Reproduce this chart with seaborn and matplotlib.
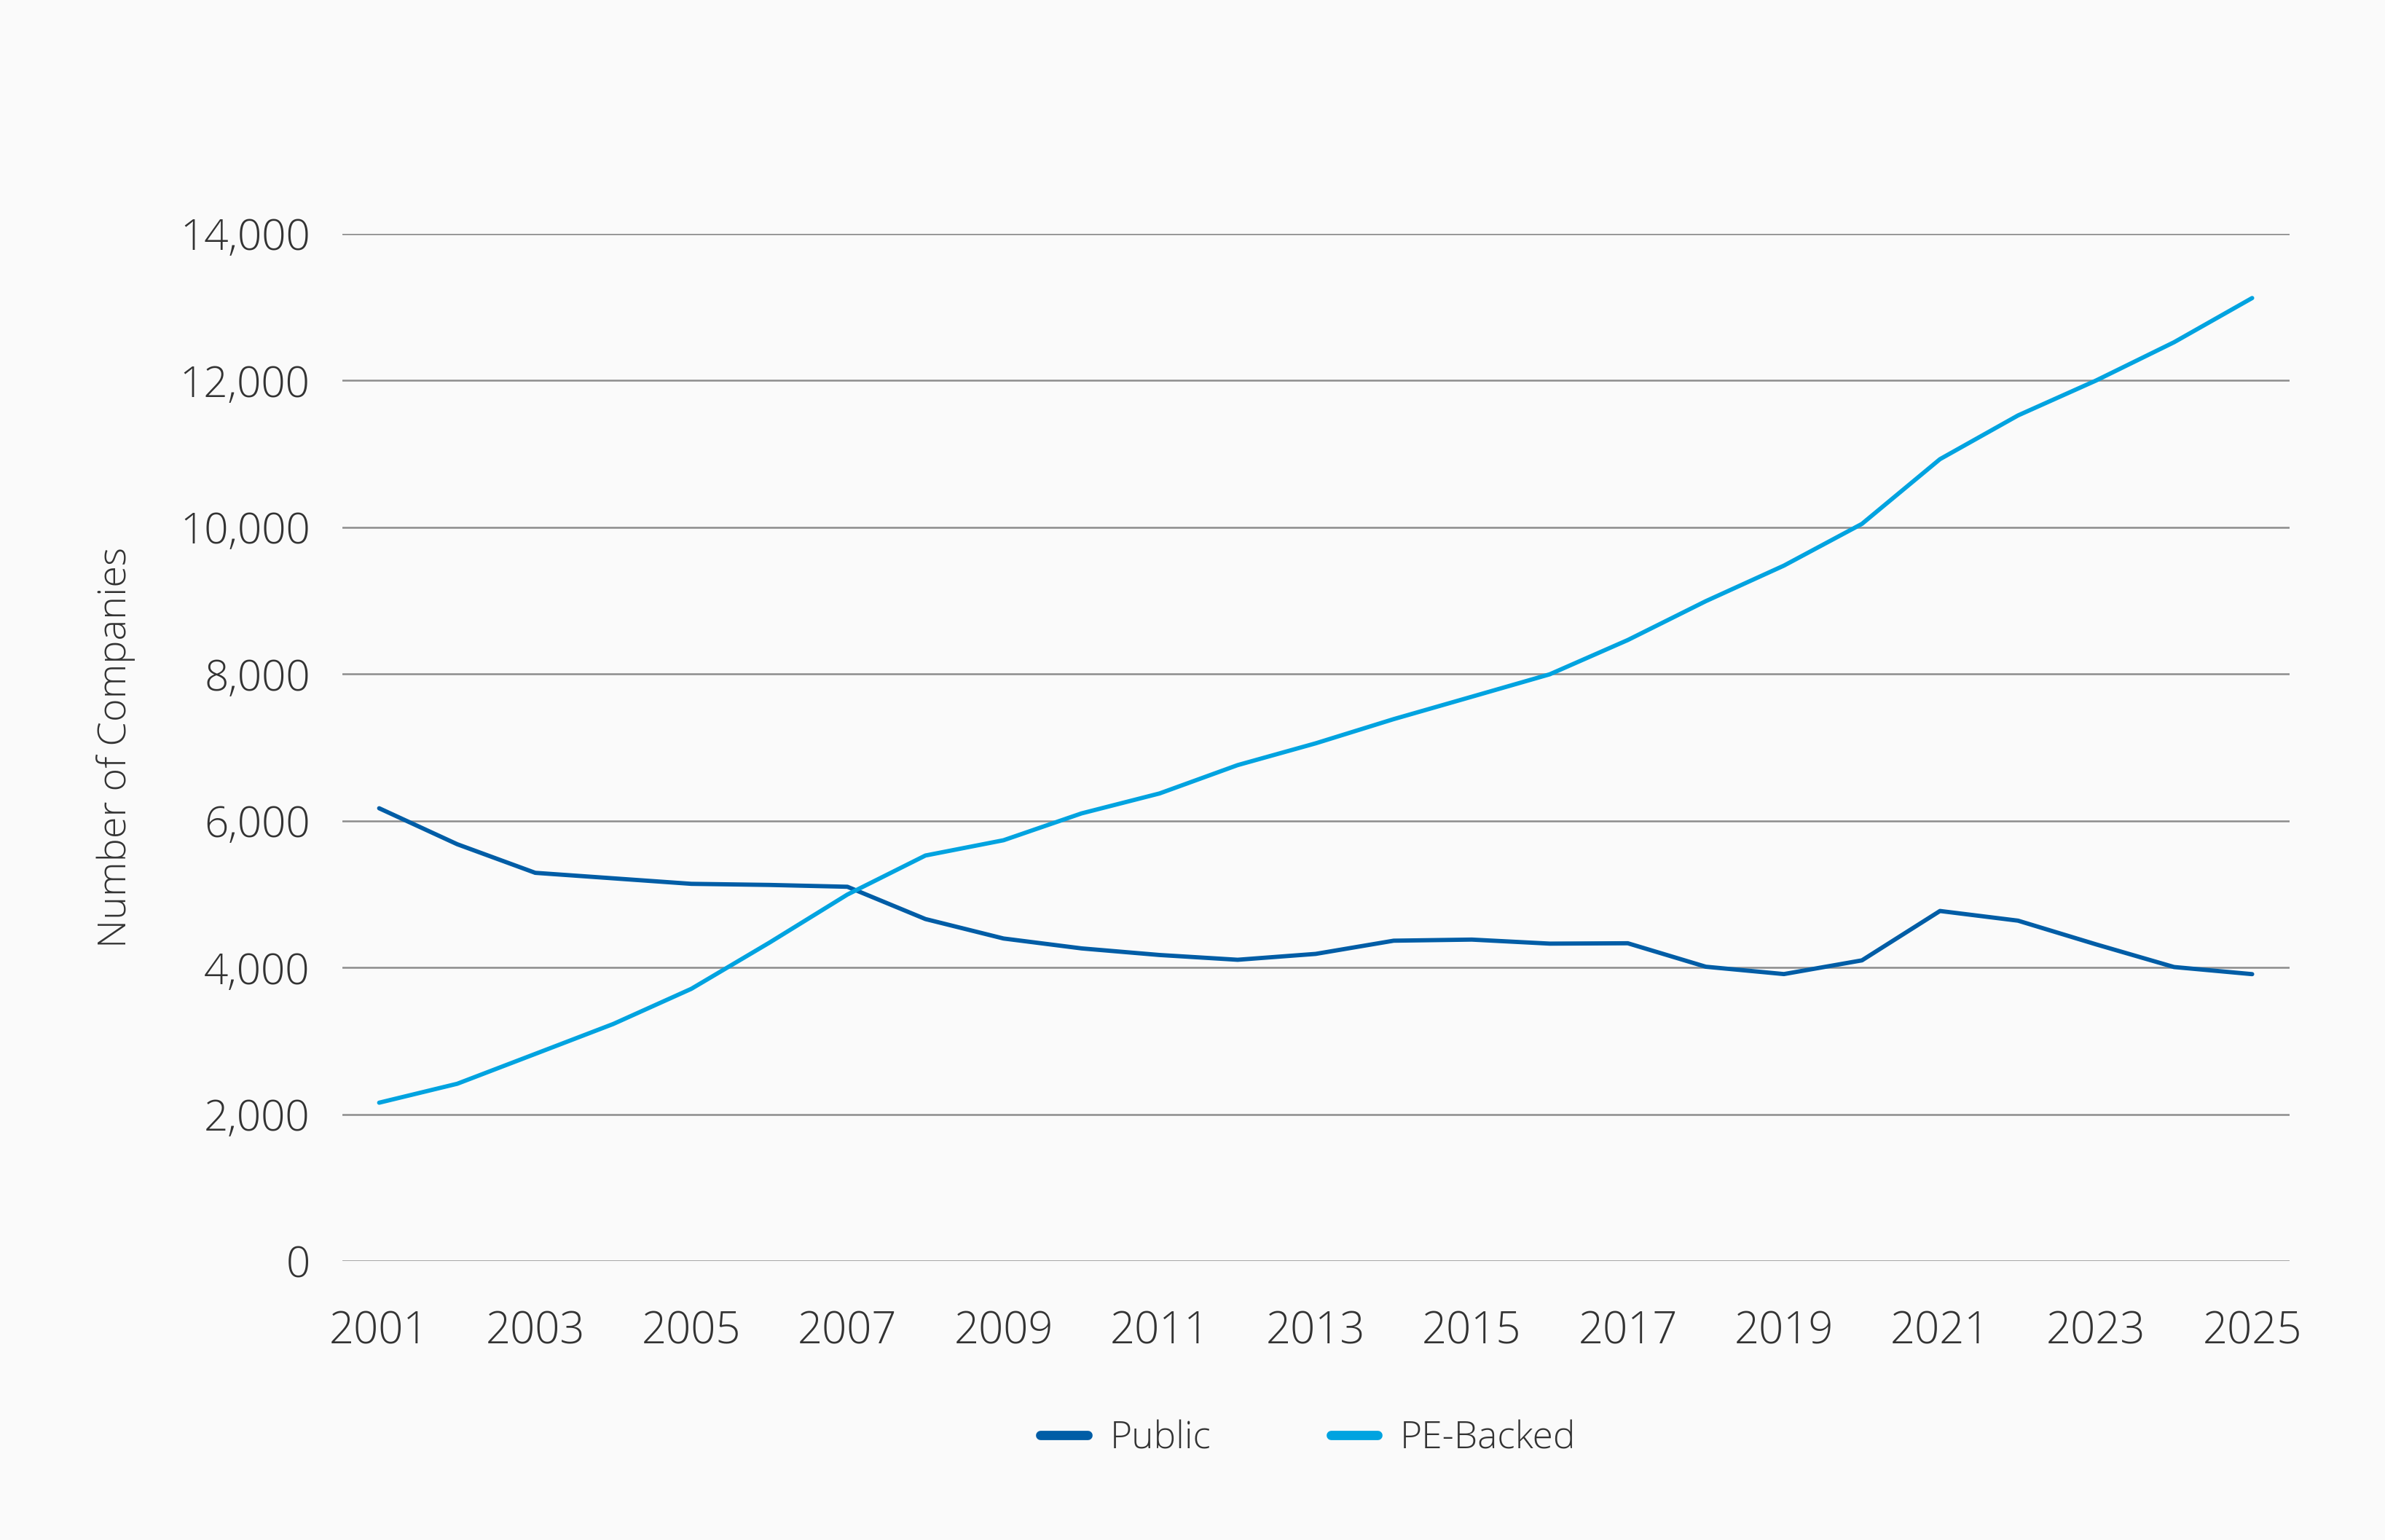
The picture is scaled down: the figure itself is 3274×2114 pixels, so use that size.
import pandas as pd
import numpy as np
import matplotlib
matplotlib.use('Agg')
import matplotlib.pyplot as plt
import seaborn as sns

years = list(range(2001, 2026))
public = [6170, 5680, 5290, 5215, 5140, 5125, 5100, 4660, 4395, 4260,
          4170, 4105, 4185, 4365, 4380, 4325, 4330, 4010, 3910, 4097,
          4770, 4638, 4315, 4006, 3909]
pe_backed = [2157, 2415, 2822, 3230, 3709, 4338, 4994, 5526, 5734, 6100,
             6372, 6758, 7055, 7385, 7690, 7996, 8463, 8993, 9477, 10046,
             10928, 11524, 12000, 12522, 13124]
series_names = ['Public', 'PE-Backed']
x_ticks = list(range(2001, 2026, 2))
y_ticks = list(range(0, 14001, 2000))

df = pd.DataFrame({'year': years * 2,
                   'companies': public + pe_backed,
                   'series': [series_names[0]] * len(years) + [series_names[1]] * len(years)})

sns.set_theme(style='white')
plt.rcParams['font.family'] = ['Open Sans', 'DejaVu Sans']
plt.rcParams['font.weight'] = 'light'
text_color = '#333333'
palette = {'Public': '#005DA6', 'PE-Backed': '#00A3E0'}

fig = plt.figure(figsize=(16.37, 10.57), dpi=200, facecolor='#FAFAFA')
ax = fig.add_axes([0.1436, 0.1812, 0.8164, 0.667])
ax.set_facecolor('#FAFAFA')

sns.lineplot(data=df, x='year', y='companies', hue='series', palette=palette,
             linewidth=2.1, ax=ax, legend=False, solid_capstyle='round')

ax.set_ylim(0, 14000)
ax.set_xlim(2000.53, 2025.48)
ax.set_yticks(y_ticks)
ax.set_yticklabels([f'{v:,}' for v in y_ticks], fontsize=21, color=text_color, fontweight='light')
ax.set_xticks(x_ticks)
ax.set_xticklabels([str(v) for v in x_ticks], fontsize=21.5, color=text_color, fontweight='light')
ax.tick_params(axis='y', length=0, pad=16)
ax.tick_params(axis='x', length=0, pad=24)
ax.yaxis.grid(True, color='#8C8C8C', linewidth=0.9)
ax.set_axisbelow(True)
for s in ax.spines.values():
    s.set_visible(False)

ax.set_xlabel('')
ax.set_ylabel('Number of Companies', fontsize=19.5, color=text_color, fontweight='light', labelpad=22)

handles = [plt.Line2D([0], [0], color=palette[n], linewidth=4.6, solid_capstyle='round') for n in series_names]
leg = fig.legend(handles, series_names, loc='center', bbox_to_anchor=(0.5485, 0.066), ncol=2,
                 frameon=False, fontsize=18.5, handlelength=1.25, handletextpad=0.6, columnspacing=3.2)
for t in leg.get_texts():
    t.set_color(text_color)
    t.set_fontweight('light')

fig.savefig('out.png', dpi=200, facecolor=fig.get_facecolor())
